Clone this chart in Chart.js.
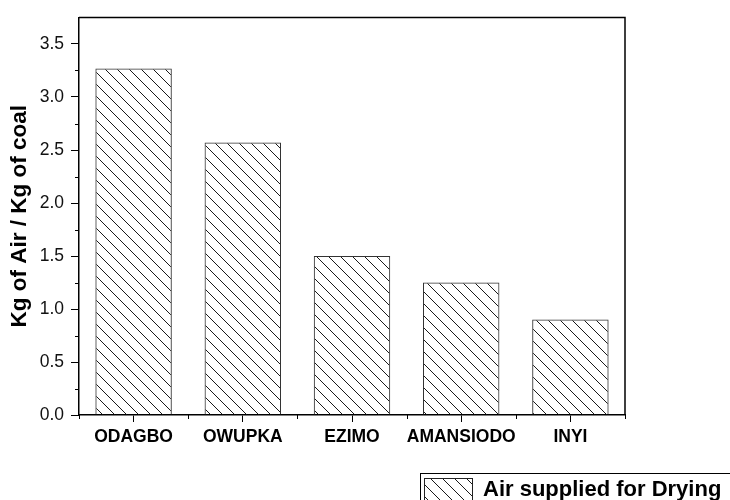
<!DOCTYPE html>
<html>
<head>
<meta charset="utf-8">
<script src="https://cdn.jsdelivr.net/npm/chart.js@4.4.1/dist/chart.umd.min.js"></script>
<style>
html,body{margin:0;padding:0;background:#fff;}
#c{display:block;}
</style>
</head>
<body>
<canvas id="c" width="730" height="500"></canvas>
<script>
const categories = ["ODAGBO", "OWUPKA", "EZIMO", "AMANSIODO", "INYI"];
const airSupplied = [3.27, 2.57, 1.50, 1.25, 0.90];
const seriesLabel = "Air supplied for Drying";
const yTitle = "Kg of Air / Kg of coal";
const yMax = 3.75;
const yStep = 0.5;

const FONT = "'Liberation Sans', Arial, sans-serif";

function makeHatch() {
  const w = 12, h = 12;
  const c = document.createElement('canvas');
  c.width = w; c.height = h;
  const x = c.getContext('2d');
  x.strokeStyle = '#1a1a1a';
  x.lineWidth = 1;
  x.beginPath();
  x.moveTo(0, 0); x.lineTo(w, h);
  x.moveTo(-2, h - 2); x.lineTo(2, h + 2);
  x.moveTo(w - 2, -2); x.lineTo(w + 2, 2);
  x.stroke();
  return x.createPattern(c, 'repeat');
}
const hatch = makeHatch();

const framePlugin = {
  id: 'frame',
  afterDraw(chart) {
    const ctx = chart.ctx;
    const a = chart.chartArea;
    const xs = chart.scales.x, ys = chart.scales.y;
    ctx.save();
    ctx.strokeStyle = '#000';
    ctx.lineWidth = 1.5;
    ctx.beginPath();
    ctx.moveTo(a.left, a.top); ctx.lineTo(a.right, a.top); ctx.lineTo(a.right, a.bottom);
    ctx.stroke();
    // minor ticks
    ctx.lineWidth = 1;
    ctx.beginPath();
    for (let v = yStep / 2; v < yMax; v += yStep) {
      const py = Math.round(ys.getPixelForValue(v)) + 0.5;
      ctx.moveTo(a.left - 4, py); ctx.lineTo(a.left, py);
    }
    for (let i = -0.5; i <= categories.length - 0.5; i += 1) {
      const px = Math.round(xs.getPixelForValue(i)) + 0.5;
      ctx.moveTo(px, a.bottom); ctx.lineTo(px, a.bottom + 4);
    }
    ctx.stroke();
    // legend
    const lx = 420.5, ly = 473.5;
    ctx.lineWidth = 1;
    ctx.strokeStyle = '#000';
    ctx.strokeRect(lx, ly, 400, 60);
    ctx.fillStyle = hatch;
    ctx.fillRect(424, 478, 49, 30);
    ctx.strokeStyle = '#222';
    ctx.strokeRect(424.5, 478.5, 48, 30);
    ctx.fillStyle = '#000';
    ctx.font = "bold 22px " + FONT;
    ctx.textBaseline = 'alphabetic';
    ctx.textAlign = 'left';
    ctx.fillText(chart.data.datasets[0].label, 483, 496);
    ctx.restore();
  }
};

new Chart(document.getElementById('c'), {
  type: 'bar',
  data: {
    labels: categories,
    datasets: [{
      label: seriesLabel,
      data: airSupplied,
      backgroundColor: hatch,
      borderColor: '#333',
      borderWidth: 1,
      categoryPercentage: 1,
      barPercentage: 0.7
    }]
  },
  options: {
    responsive: false,
    animation: false,
    events: [],
    layout: { padding: { top: 15, right: 105, bottom: 0, left: 0 } },
    plugins: { legend: { display: false }, tooltip: { enabled: false } },
    scales: {
      x: {
        offset: true,
        grid: { display: true, drawOnChartArea: false, drawTicks: true, tickLength: 7, tickColor: '#000', tickWidth: 1, offset: false },
        border: { display: true, color: '#000', width: 1.5 },
        ticks: { color: '#000', font: { family: FONT, size: 17.5, weight: 'bold' }, padding: 5, maxRotation: 0, autoSkip: false },
        afterFit(s) { s.height = 85; }
      },
      y: {
        min: 0,
        max: yMax,
        grid: { display: true, drawOnChartArea: false, drawTicks: true, tickLength: 8, tickColor: '#000', tickWidth: 1 },
        border: { display: true, color: '#000', width: 1.5 },
        ticks: {
          stepSize: yStep,
          includeBounds: false,
          color: '#111',
          padding: 7,
          font: { family: FONT, size: 17.5 },
          callback: (v) => Number(v).toFixed(1)
        },
        title: {
          display: true,
          text: yTitle,
          color: '#000',
          font: { family: FONT, size: 22.5, weight: 'bold' },
          padding: { top: 6, bottom: 0 }
        },
        afterFit(s) { s.width = 79; }
      }
    }
  },
  plugins: [framePlugin]
});
</script>
</body>
</html>
